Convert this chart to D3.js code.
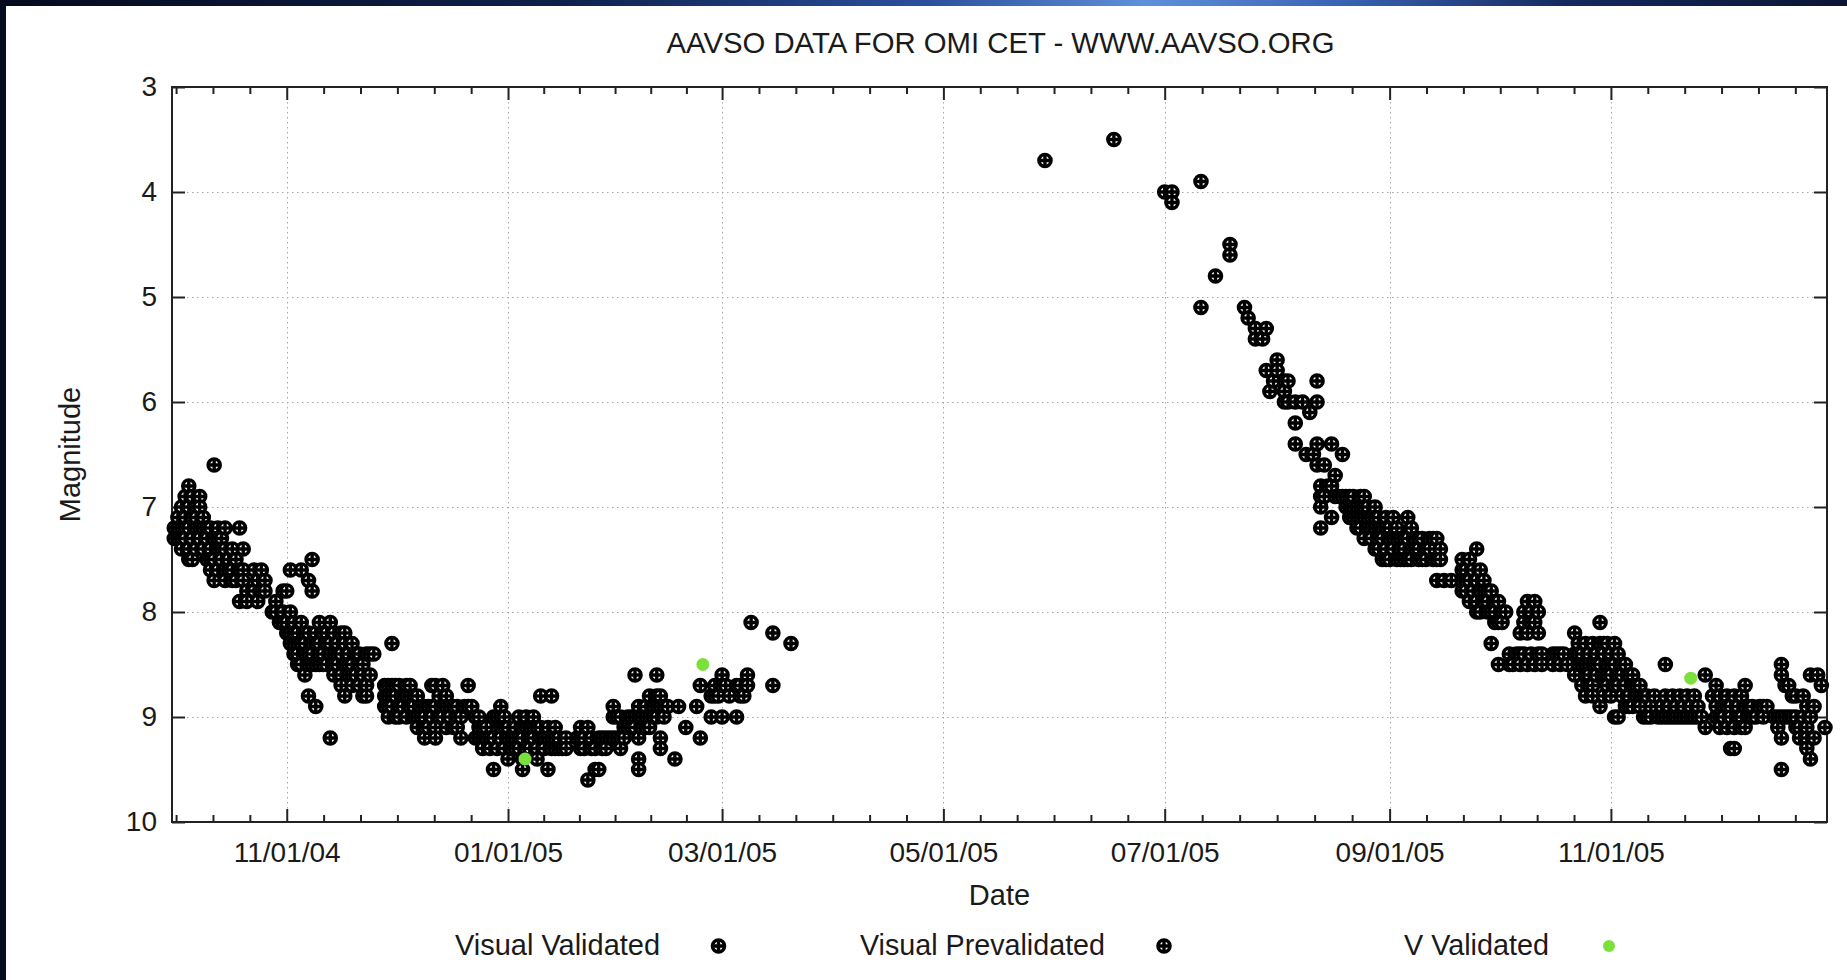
<!DOCTYPE html>
<html><head><meta charset="utf-8">
<script src="https://cdn.jsdelivr.net/npm/d3@7"></script>
<style>
body{margin:0;background:#060b1e}
svg{display:block}
text{font-family:"Liberation Sans",Arial,Helvetica,sans-serif}
</style>
</head><body><svg id="c" width="1847" height="980"></svg>
<script>
// ---------------- DATA ----------------
const chartTitle = "AAVSO DATA FOR OMI CET - WWW.AAVSO.ORG";
const xLabel = "Date";
const yLabel = "Magnitude";
const seriesNames = ["Visual Validated", "Visual Prevalidated", "V Validated"];
const startDate = "2004-10-01";                       // day 0 of the observation offsets
const dateDomain = ["2004-09-30T09:00Z", "2005-12-30T13:30Z"];
const magDomain = [3, 10];
const magTicks = [3, 4, 5, 6, 7, 8, 9, 10];
const dateTicks = ["2004-11-01", "2005-01-01", "2005-03-01", "2005-05-01", "2005-07-01", "2005-09-01", "2005-11-01"];

// rows: [day offset from startDate, magnitudes observed that day...]
const visualValidated = [
 [0,7.2,7.3],[1,7.1,7.2,7.3],[2,7.0,7.2,7.3,7.4],[3,6.9,7.1,7.2,7.3],[4,6.8,7.0,7.2,7.4,7.5],
 [5,6.9,7.1,7.3,7.5],[6,7.0,7.1,7.2,7.4],[7,6.9,7.0,7.2,7.3],[8,7.1,7.2,7.4],[9,7.2,7.3,7.5],
 [10,7.2,7.4,7.5,7.6],[11,6.6,7.3,7.5,7.7],[12,7.2,7.3,7.4,7.6],[13,7.3,7.4,7.5],[14,7.2,7.4,7.6,7.7],
 [15,7.5,7.6],[16,7.4,7.6,7.7],[17,7.5,7.7],[18,7.2,7.6,7.9],[19,7.4,7.6,7.7],[20,7.8,7.9],
 [22,7.6,7.8],[23,7.7,7.9],[24,7.6,7.8],[25,7.7,7.8],
 [27,8.0],[28,7.9,8.0],[29,8.1],[30,7.8,8.0,8.1],[31,7.8,8.1,8.2],[32,7.6,8.0,8.2,8.3],
 [33,8.1,8.2,8.3,8.4],[34,8.2,8.3,8.4,8.5],[35,7.6,8.1,8.3,8.5],[36,8.2,8.3,8.4,8.6],
 [37,7.7,8.2,8.4,8.5,8.8],[38,7.5,7.8,8.3,8.4,8.5],[39,8.2,8.3,8.5,8.9],[40,8.1,8.3,8.4,8.5],
 [41,8.2,8.4,8.5],[42,8.2,8.3,8.5],[43,8.1,8.3,8.4,9.2],[44,8.2,8.4,8.5,8.6],[45,8.3,8.4,8.5],
 [46,8.2,8.4,8.6,8.7],[47,8.2,8.3,8.5,8.8],[48,8.4,8.5,8.6],[49,8.3,8.5,8.6,8.7],[50,8.4,8.6],
 [51,8.4,8.5,8.7],[52,8.5,8.6,8.8],[53,8.4,8.7,8.8],[54,8.4,8.6],[55,8.4],
 [58,8.7,8.8,8.9],[59,8.7,8.8,8.9,9.0],[60,8.3,8.7,8.8,8.9],[61,8.7,8.8,9.0],[62,8.7,8.9,9.0],
 [63,8.8,8.9],[64,8.7,8.8,9.0],[65,8.7,8.8,8.9],[66,8.8,8.9,9.0],[67,8.8,9.0,9.1],[68,8.9,9.0],
 [69,8.9,9.0,9.1,9.2],[70,8.9,9.1],[71,8.7,8.9,9.0],[72,8.7,8.9,9.1,9.2],[73,8.8,9.0],
 [74,8.7,8.9,9.0],[75,8.8,8.9,9.1],[76,8.9,9.0],[77,8.9,9.1],[78,8.9,9.0,9.1],[79,9.0,9.2],
 [80,8.9],[81,8.7,8.9],[82,8.9],[83,9.0,9.2],[84,9.0,9.1,9.2],[85,9.1,9.2,9.3],[86,9.1,9.2],
 [87,9.2,9.3],[88,9.0,9.2,9.5],[89,9.0,9.1,9.3],[90,8.9,9.0,9.1,9.2],[91,9.0,9.1,9.3],
 [92,9.1,9.2,9.4],[93,9.2,9.3],
 [94,9.1,9.2,9.3],[95,9.0,9.2,9.3],[96,9.1,9.2,9.4,9.5],[97,9.0,9.1,9.3],[98,9.1,9.2,9.3],
 [99,9.0,9.1,9.2],[100,9.1,9.3,9.4],[101,8.8,9.1,9.2],[102,9.2,9.3],[103,9.1,9.2,9.5],
 [104,8.8,9.2,9.3],[105,9.1,9.2,9.3],[106,9.2,9.3],[107,9.3],[108,9.2,9.3],[111,9.2],
 [112,9.1,9.2,9.3],[113,9.2,9.3],[114,9.1,9.6],[115,9.2,9.3],[116,9.3,9.5],[117,9.2,9.5],
 [118,9.2,9.3],[119,9.2,9.3],[120,9.2],[121,8.9,9.0,9.2],[122,9.0,9.2],[123,9.0,9.2,9.3],[124,9.1,9.2],
 [125,9.0,9.1],[126,9.0,9.1],[127,8.6,9.0,9.1],[128,8.9,9.0,9.2,9.4,9.5],[129,9.0,9.1],
 [130,8.9,9.0,9.1],[131,8.8,9.0,9.1],[132,8.9,9.0],[133,8.6,8.8,8.9,9.0],[134,8.8,8.9,9.2,9.3],
 [135,8.9,9.0],[136,8.9],[138,9.4],[139,8.9],[141,9.1],[144,8.9],[145,8.7,9.2],[148,8.8,9.0],
 [149,8.7,8.8],[150,8.8],[151,8.6,8.7,9.0],[152,8.7],[153,8.8],[155,8.7,9.0],[156,8.7,8.8],
 [157,8.8],[158,8.6,8.7],[159,8.1],[165,8.2,8.7],[170,8.3],
 [240,3.7],[259,3.5],[273,4.0],[275,4.0,4.1],[283,3.9,5.1],[287,4.8],[291,4.5,4.6],
 [295,5.1],[296,5.2],[298,5.3,5.4],[300,5.4],[301,5.3,5.7],[302,5.9],[303,5.8],[304,5.6,5.7],
 [306,5.8,5.9,6.0],[307,5.8,6.0],[309,6.0,6.2,6.4],[311,6.0],[312,6.5],[313,6.1],[314,6.5],
 [315,5.8,6.0,6.4,6.6],[316,6.8,6.9,7.0,7.2],[317,6.6,6.9],[318,6.8],[319,6.4,6.8,7.1],
 [320,6.7,6.9],[321,6.9],[322,6.5,6.9],
 [323,6.9,7.0],[324,6.9,7.0,7.1],[325,6.9,7.0,7.1],[326,7.0,7.1,7.2],[327,6.9,7.0,7.1,7.2],
 [328,6.9,7.0,7.1,7.3],[329,7.0,7.1,7.2],[330,7.1,7.2,7.3],[331,7.0,7.1,7.2,7.4],
 [332,7.1,7.2,7.3,7.4],[333,7.2,7.3,7.5],[334,7.1,7.2,7.4,7.5],[335,7.2,7.3,7.5],
 [336,7.1,7.3,7.4],[337,7.2,7.3,7.5],[338,7.3,7.4,7.5],[339,7.3,7.4,7.5],[340,7.1,7.3,7.5],
 [341,7.2,7.4,7.5],[342,7.3,7.4],[343,7.3,7.4,7.5],[344,7.3,7.5],[345,7.4,7.5],[346,7.3,7.4],
 [347,7.3,7.5],[348,7.3,7.5,7.7],[349,7.4,7.5],[350,7.7],[352,7.7],
 [355,7.5,7.6,7.7,7.8],[356,7.6,7.7,7.8],[357,7.5,7.7,7.9],[358,7.6,7.8],[359,7.4,7.7,7.9,8.0],
 [360,7.6,7.8,8.0],[361,7.7,7.8,7.9],[362,7.8,7.9,8.0],[363,7.8,8.0,8.3],[364,7.9,8.0,8.1],
 [365,7.9,8.1,8.5],[366,8.0,8.1],[367,8.0],[368,8.4,8.5],[369,8.5],[370,8.4],[371,8.2,8.4,8.5],
 [372,8.0,8.1,8.4],[373,7.9,8.2,8.5],[374,8.0,8.1,8.4],[375,7.9,8.1,8.5],[376,8.0,8.2,8.4],
 [377,8.4,8.5],[380,8.4,8.5],[381,8.4],[382,8.4,8.5],[383,8.4],[384,8.5],[386,8.2,8.4,8.6],
 [387,8.3,8.4,8.5],[388,8.4,8.5,8.7],[389,8.3,8.5,8.6,8.8],[390,8.4,8.5,8.6,8.7],
 [391,8.3,8.5,8.7,8.8],[392,8.4,8.5,8.6],[393,8.1,8.3,8.5,8.9],[394,8.3,8.4,8.6,8.8],
 [395,8.3,8.5,8.6,8.7],[396,8.4,8.5,8.6,8.8],[397,8.3,8.5,8.7,9.0],[398,8.4,8.6,8.7,9.0],
 [399,8.5,8.6,8.8],[400,8.5,8.7,8.9],[401,8.6,8.8,8.9],[402,8.6,8.7,8.9],[403,8.7,8.8],
 [404,8.7,8.8,8.9],[405,8.8,9.0],
 [406,8.8,9.0],[407,8.9,9.0],[408,8.8],[409,9.0],[410,8.9,9.0],[411,8.5,8.8,9.0],[412,8.9,9.0],
 [413,8.8,9.0],[414,8.9,9.0],[415,8.8,9.0],[416,8.9,9.0],[417,8.8,9.0],[418,8.9,9.0],
 [419,8.8,9.0],[420,8.9,9.0],[421,9.0],[422,8.6,9.1],[424,8.8]
];
const visualPrevalidated = [
 [425,8.7,8.9,9.0],[426,8.8,9.0,9.1],[427,8.9,9.0],[428,8.8,8.9,9.1],[429,8.9,9.0,9.3],
 [430,8.8,9.1,9.3],[431,8.9,9.0],[432,8.8,9.0,9.1],[433,8.7,8.9,9.1],[434,8.9,9.0],[435,8.9,9.0],
 [436,9.0],[437,8.9],[438,8.9,9.0],[439,8.9],[441,9.0],[442,9.0,9.1],[443,8.5,8.6,9.0,9.2,9.5],
 [444,8.7,9.0],[445,8.7,9.0],[446,8.8,9.0],[447,8.8,9.0,9.1],[448,9.1,9.2],[449,8.8,9.0],
 [450,8.9,9.1,9.2,9.3],[451,8.6,9.0,9.4],[452,8.9,9.2],[453,8.6],[454,8.7],[455,9.1]
];
const vValidated = [[96.7,9.4],[145.7,8.5],[418.0,8.63]];

// ---------------- LAYOUT ----------------
const W = 1847, H = 980;
const L = 172, R = 1827, T = 87, B = 822;
const FONT = 28, LFONT = 29, INK = "#1a1a1a";

const svg = d3.select("#c");
const defs = svg.append("defs");
const grad = defs.append("linearGradient").attr("id", "band");
[[0,"#050a1c"],[0.3,"#0e1f4a"],[0.5,"#2a4f9c"],[0.62,"#5f90da"],[0.72,"#3b66b8"],[0.85,"#15285e"],[1,"#0a1433"]]
  .forEach(([o,c]) => grad.append("stop").attr("offset", o).attr("stop-color", c));

svg.append("rect").attr("width", W).attr("height", H).attr("fill", "#060b1e");
svg.append("rect").attr("width", W).attr("height", 6).attr("fill", "url(#band)");
svg.append("rect").attr("x", 6).attr("y", 6).attr("width", W - 6).attr("height", H - 6).attr("fill", "#fff");

const x = d3.scaleUtc().domain(dateDomain.map(s => new Date(s))).range([L, R]);
const y = d3.scaleLinear().domain(magDomain).range([T, B]);
const t0 = new Date(startDate + "T00:00Z");
const toDate = d => new Date(t0.getTime() + d * 864e5);
const majors = dateTicks.map(s => new Date(s + "T00:00Z"));

// grid
const grid = svg.append("g").attr("stroke", "#a6a6a6").attr("stroke-width", 1).attr("stroke-dasharray", "1.5,3.5");
majors.forEach(m => grid.append("line").attr("x1", Math.round(x(m)) + 0.5).attr("x2", Math.round(x(m)) + 0.5).attr("y1", T).attr("y2", B));
magTicks.filter(v => v > magDomain[0] && v < magDomain[1])
  .forEach(v => grid.append("line").attr("x1", L).attr("x2", R).attr("y1", Math.round(y(v)) + 0.5).attr("y2", Math.round(y(v)) + 0.5));

// minor ticks: each two-month interval split in six
const ext = [d3.utcMonth.offset(majors[0], -2), ...majors, d3.utcMonth.offset(majors[majors.length - 1], 2)];
const minors = [];
for (let i = 0; i < ext.length - 1; i++) {
  const a = +ext[i], b = +ext[i + 1];
  for (let k = 1; k < 6; k++) minors.push(new Date(a + (b - a) * k / 6));
}
const dom = x.domain();
const minorIn = minors.filter(m => m > dom[0] && m < dom[1]);

function styleAxis(g) {
  g.select(".domain").remove();
  g.selectAll("line").attr("stroke", "#222").attr("stroke-width", 2);
  g.attr("font-size", FONT).attr("font-family", "'Liberation Sans', Arial, sans-serif");
  g.selectAll("text").attr("fill", INK);
}

svg.append("g").attr("transform", `translate(0,${B})`)
  .call(d3.axisBottom(x).tickValues(majors).tickFormat(d3.utcFormat("%m/%d/%y")).tickSize(-13).tickPadding(20))
  .call(styleAxis);
svg.append("g").attr("transform", `translate(0,${T})`)
  .call(d3.axisTop(x).tickValues(majors).tickFormat("").tickSize(-13))
  .call(styleAxis);
svg.append("g").attr("transform", `translate(0,${B})`)
  .call(d3.axisBottom(x).tickValues(minorIn).tickFormat("").tickSize(-7))
  .call(styleAxis);
svg.append("g").attr("transform", `translate(0,${T})`)
  .call(d3.axisTop(x).tickValues(minorIn).tickFormat("").tickSize(-7))
  .call(styleAxis);
svg.append("g").attr("transform", `translate(${L},0)`)
  .call(d3.axisLeft(y).tickValues(magTicks).tickFormat(d3.format("d")).tickSize(-13).tickPadding(15))
  .call(styleAxis);
svg.append("g").attr("transform", `translate(${R},0)`)
  .call(d3.axisRight(y).tickValues(magTicks).tickFormat("").tickSize(-13))
  .call(styleAxis);

svg.append("rect").attr("x", L).attr("y", T).attr("width", R - L).attr("height", B - T)
  .attr("fill", "none").attr("stroke", "#222").attr("stroke-width", 2);

// marker: circle with a cross
const ringCross = {
  draw(ctx, size) {
    const r = Math.sqrt(size / Math.PI);
    ctx.moveTo(r, 0); ctx.arc(0, 0, r, 0, 2 * Math.PI);
    ctx.moveTo(-r, 0); ctx.lineTo(r, 0);
    ctx.moveTo(0, -r); ctx.lineTo(0, r);
  }
};
const markR = 6.1;
const markPath = d3.symbol().type(ringCross).size(Math.PI * markR * markR)();
const flat = rows => rows.flatMap(r => r.slice(1).map(m => ({ date: toDate(r[0]), mag: m })));

const plot = svg.append("g");
[visualValidated, visualPrevalidated].forEach(rows => {
  plot.append("g").selectAll("path").data(flat(rows)).join("path")
    .attr("d", markPath)
    .attr("transform", d => `translate(${x(d.date)},${y(d.mag)})`)
    .attr("fill", "#fff").attr("stroke", "#000").attr("stroke-width", 3.4);
});
plot.append("g").selectAll("circle").data(vValidated.map(r => ({ date: toDate(r[0]), mag: r[1] }))).join("circle")
  .attr("cx", d => x(d.date)).attr("cy", d => y(d.mag)).attr("r", 6.5).attr("fill", "#7ce03c");

// texts
svg.append("text").attr("x", (L + R) / 2 + 1).attr("y", 53).attr("text-anchor", "middle")
  .attr("font-size", LFONT).attr("fill", INK).attr("textLength", 668).attr("lengthAdjust", "spacingAndGlyphs").text(chartTitle);
svg.append("text").attr("x", (L + R) / 2).attr("y", 905).attr("text-anchor", "middle")
  .attr("font-size", LFONT).attr("fill", INK).text(xLabel);
svg.append("text").attr("transform", `translate(80,${(T + B) / 2}) rotate(-90)`).attr("text-anchor", "middle")
  .attr("font-size", LFONT).attr("fill", INK).text(yLabel);

// legend
const legX = [660, 1105, 1549], legM = [718.5, 1164, 1609], legW = [205, 245, 145], legY = 955, legMY = 946;
seriesNames.forEach((n, i) => {
  svg.append("text").attr("x", legX[i]).attr("y", legY).attr("text-anchor", "end")
    .attr("font-size", LFONT).attr("fill", INK)
    .attr("textLength", legW[i]).attr("lengthAdjust", "spacingAndGlyphs").text(n);
  if (i < 2) {
    svg.append("path").attr("d", markPath).attr("transform", `translate(${legM[i]},${legMY})`)
      .attr("fill", "#fff").attr("stroke", "#000").attr("stroke-width", 3.4);
  } else {
    svg.append("circle").attr("cx", legM[i]).attr("cy", legMY).attr("r", 6).attr("fill", "#7ce03c");
  }
});
</script>
</body></html>
